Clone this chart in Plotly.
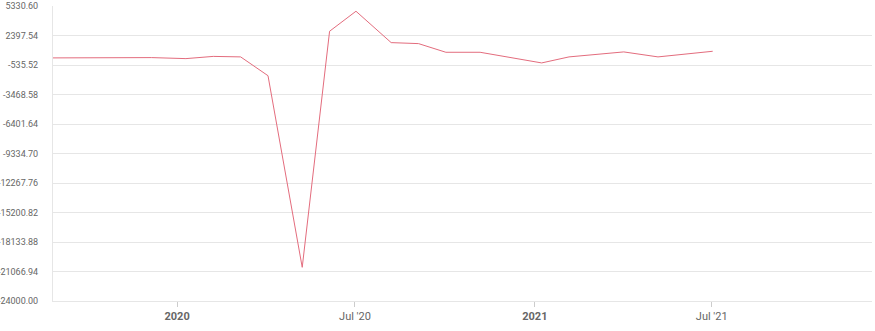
import plotly.graph_objects as go

dates = ["2019-08-27", "2019-10-04", "2019-12-06", "2020-01-10", "2020-02-07",
         "2020-03-06", "2020-04-03", "2020-05-08", "2020-06-05", "2020-07-02",
         "2020-08-07", "2020-09-04", "2020-10-02", "2020-11-06", "2021-01-08",
         "2021-02-05", "2021-04-02", "2021-05-07", "2021-07-02"]
values = [170, 200, 200, 100, 320, 270, -1600, -20650, 2820, 4810,
          1690, 1590, 730, 730, -330, 270, 765, 270, 830]

y_ticks = [5330.60, 2397.54, -535.52, -3468.58, -6401.64, -9334.70,
           -12267.76, -15200.82, -18133.88, -21066.94, -24000.00]
x_tickvals = ["2020-01-01", "2020-07-01", "2021-01-01", "2021-07-01"]
x_ticktext = ["<b>2020</b>", "Jul '20", "<b>2021</b>", "Jul '21"]

fig = go.Figure()
fig.add_trace(go.Scatter(
    x=dates, y=values, mode="lines",
    line=dict(color="#e36c7d", width=1),
    hoverinfo="x+y", showlegend=False,
))

fig.update_layout(
    width=875, height=331,
    margin=dict(l=53, r=3, t=6, b=30),
    paper_bgcolor="white", plot_bgcolor="white",
    font=dict(family="Roboto", size=11, color="#666666"),
    xaxis=dict(
        type="date",
        range=["2019-08-27", "2021-12-12"],
        tickvals=x_tickvals, ticktext=x_ticktext,
        showgrid=False, zeroline=False, automargin=False,
        showline=True, linecolor="#e6e6e6", linewidth=1,
        ticks="outside", ticklen=5, tickcolor="#cccccc", tickwidth=1,
        tickfont=dict(size=11, color="#666666"),
    ),
    yaxis=dict(
        range=[-24000, 5330.7],
        tickvals=y_ticks,
        ticktext=[f"{v:.2f}" for v in y_ticks],
        showgrid=True, gridcolor="#e6e6e6", gridwidth=1,
        zeroline=False, automargin=False,
        showline=True, linecolor="#e6e6e6", linewidth=1,
        ticks="", ticklabelstandoff=12,
        tickfont=dict(size=9, color="#666666"),
    ),
)

fig.write_html("out.html")
